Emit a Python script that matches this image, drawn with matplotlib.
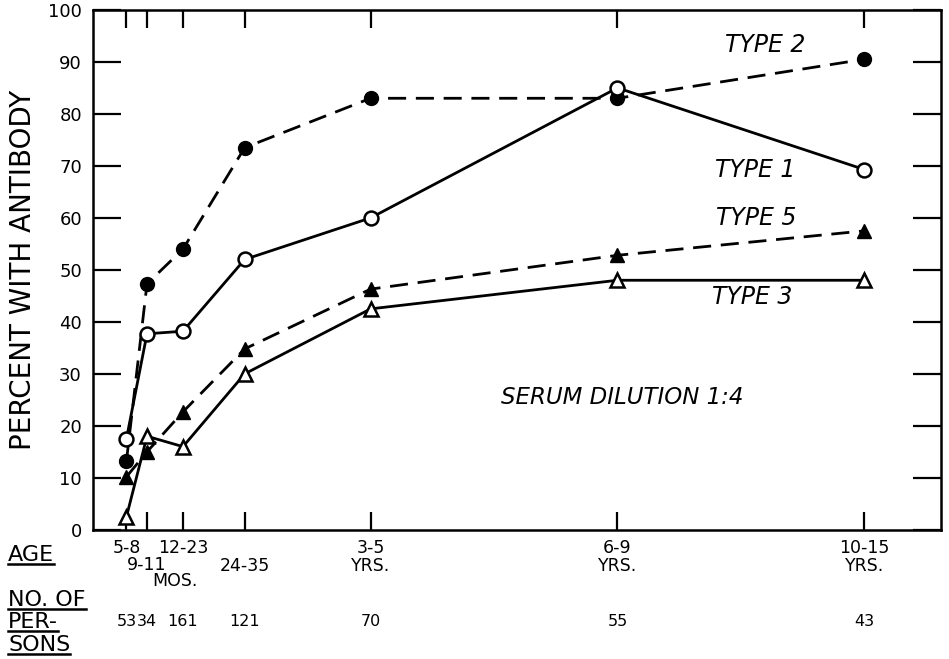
import matplotlib
matplotlib.use('Agg')
import matplotlib.pyplot as plt
from matplotlib.lines import Line2D

# age group midpoints (months) used for x placement
age_x = [6.5, 10.5, 17.5, 29.5, 54, 102, 150]
age_lab = ['5-8', '9-11', '12-23', '24-35', '3-5\nYRS.', '6-9\nYRS.', '10-15\nYRS.']
persons = ['53', '34', '161', '121', '70', '55', '43']

type1 = [17.5, 37.7, 38.2, 52, 60, 85, 69.3]
type2 = [13.2, 47.3, 54, 73.5, 83, 83, 90.5]
type3 = [2.5, 18, 16, 30, 42.5, 48, 48]
type5 = [10.2, 15, 22.7, 34.8, 46.3, 52.8, 57.5]

plt.rcParams['font.family'] = 'DejaVu Sans'

fig = plt.figure(figsize=(9.49, 6.59), dpi=100)
ax = fig.add_axes([0.098, 0.196, 0.894, 0.789])

lw = 2.0
ax.plot(age_x, type2, color='black', lw=lw, dashes=(6.5, 3.5), marker='o', ms=10,
        mfc='black', mec='black', zorder=3)
ax.plot(age_x, type1, color='black', lw=lw, marker='o', ms=10,
        mfc='white', mec='black', mew=1.8, zorder=4)
ax.plot(age_x, type5, color='black', lw=lw, dashes=(6.5, 3.5), marker='^', ms=10.5,
        mfc='black', mec='black', zorder=3)
ax.plot(age_x, type3, color='black', lw=lw, marker='^', ms=10.5,
        mfc='white', mec='black', mew=1.8, zorder=4)

ax.set_xlim(0, 165)
ax.set_ylim(0, 100)
ax.set_yticks(range(0, 101, 10))
ax.set_xticks(age_x)
ax.set_xticklabels([])
for s in ax.spines.values():
    s.set_linewidth(1.8)
ax.tick_params(axis='y', direction='in', length=20, width=1.6, right=True,
               labelsize=13, pad=8)
ax.tick_params(axis='x', direction='in', length=13, width=1.6, top=True)

ax.set_ylabel('PERCENT WITH ANTIBODY', fontsize=20, labelpad=8)

# series labels
lab_kw = dict(fontsize=17, style='italic', ha='center', va='center')
ax.text(130.8, 93.3, 'TYPE 2', **lab_kw)
ax.text(128.8, 69.2, 'TYPE 1', **lab_kw)
ax.text(129, 60, 'TYPE 5', **lab_kw)
ax.text(128.2, 44.8, 'TYPE 3', **lab_kw)
ax.text(103, 25.4, 'SERUM DILUTION 1:4', fontsize=16.5, style='italic',
        ha='center', va='center')

# age labels below the axis
xt = ax.get_xaxis_transform()
offs = [18, 35, 18, 36, 27, 27, 27]
for x, lab, o in zip(age_x, age_lab, offs):
    ax.annotate(lab, xy=(x, 0), xycoords=xt, xytext=(0, -o), textcoords='offset pixels',
                ha='center', va='center', fontsize=12.5, linespacing=1.0)
ax.annotate('MOS.', xy=(age_x[2], 0), xycoords=xt, xytext=(-8, -51),
            textcoords='offset pixels', ha='center', va='center', fontsize=12.5)
for x, n in zip(age_x, persons):
    ax.annotate(n, xy=(x, 0), xycoords=xt, xytext=(0, -92), textcoords='offset pixels',
                ha='center', va='center', fontsize=11.5)

# left row headers, underlined
heads = [('AGE', 104), ('NO. OF', 59), ('PER-', 37), ('SONS', 14)]
fig.canvas.draw()
r = fig.canvas.get_renderer()
for txt, ypix in heads:
    t = fig.text(8 / 949, ypix / 659, txt, fontsize=16, ha='left', va='center')
    bb = t.get_window_extent(renderer=r)
    fig.add_artist(Line2D([bb.x0 / 949, bb.x1 / 949], [(bb.y0 + 1) / 659] * 2,
                          transform=fig.transFigure, color='black', lw=1.8))

fig.savefig('out.png', dpi=100)
